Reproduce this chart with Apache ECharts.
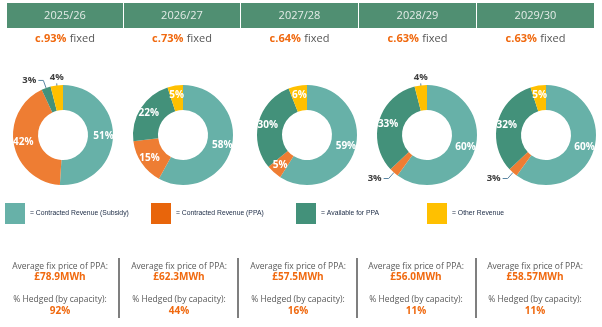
<!DOCTYPE html>
<html><head><meta charset="utf-8">
<script src="https://cdn.jsdelivr.net/npm/echarts@6/dist/echarts.min.js"></script>
<style>html,body{margin:0;padding:0;background:#fff;}#c{width:602px;height:327px;}</style>
</head><body><div id="c"></div>
<script>
// ---- data ----
const years = ['2025/26','2026/27','2027/28','2028/29','2029/30'];
const fixedPct = ['c.93%','c.73%','c.64%','c.63%','c.63%'];
const categories = ['Contracted Revenue (Subsidy)','Contracted Revenue (PPA)','Available for PPA','Other Revenue'];
const subsidy = [51,58,59,60,60];
const ppa = [42,15,5,3,3];
const available = [3,22,30,33,32];
const other = [4,5,6,4,5];
const avgPrice = ['£78.9MWh','£62.3MWh','£57.5MWh','£56.0MWh','£58.57MWh'];
const hedged = ['92%','44%','16%','11%','11%'];

// ---- layout / style ----
const values = [subsidy, ppa, available, other];
const sliceColors = ['#67b1a8','#ee7d33','#43917a','#ffc000'];
const legendColors = ['#67b1a8','#e8650b','#43917a','#ffc000'];
const boxEdges = [7,124,241,359,477,595];
const pieCx = [63,183,307,427,546];
const colCx = [60,179,298,416,535];
const sepX = [119,238,357,476];
const legendLeft = [5,151,296,427];
const FONT = 'Open Sans';
const ORANGE = '#f0690f';

const chart = echarts.init(document.getElementById('c'), null, {renderer:'canvas'});

const graphics = [];
years.forEach((y,i)=>{
  const x0 = boxEdges[i], x1 = boxEdges[i+1]-1;
  graphics.push({type:'rect', silent:true, shape:{x:x0, y:3, width:x1-x0, height:25}, style:{fill:'#508f72'}});
  graphics.push({type:'text', silent:true, x:(x0+x1)/2, y:15.5, style:{text:y, fill:'#e4ece8', font:'11px "'+FONT+'"', align:'center', verticalAlign:'middle'}});
  graphics.push({type:'text', silent:true, x:(x0+x1)/2, y:39, style:{
    text:'{a|'+fixedPct[i]+'} {b|fixed}', align:'center', verticalAlign:'middle',
    rich:{a:{fill:ORANGE, fontWeight:'bold', fontSize:11, fontFamily:FONT}, b:{fill:'#555', fontSize:11, fontFamily:FONT}}
  }});
  const cx = colCx[i];
  const t = (txt, yy, orange) => graphics.push({type:'text', silent:true, x:cx, y:yy, style:{
    text:txt, align:'center', verticalAlign:'middle',
    fill: orange ? ORANGE : '#595959',
    font: (orange ? 'bold 10px ' : '8.5px ') + '"'+FONT+'"'
  }});
  t('Average fix price of PPA:', 267, false);
  t(avgPrice[i], 277.5, true);
  t('% Hedged (by capacity):', 300, false);
  t(hedged[i], 311, true);
});
sepX.forEach(x=>{
  graphics.push({type:'line', silent:true, shape:{x1:x, y1:258, x2:x, y2:318}, style:{stroke:'#555', lineWidth:1.5}});
});

const legends = categories.map((c,k)=>({
  left: legendLeft[k]-5, top: 198, orient:'horizontal',
  itemWidth: 20, itemHeight: 21, icon:'rect', selectedMode:false,
  data:[{name:c, itemStyle:{color:legendColors[k]}}],
  formatter: '= {name}',
  textStyle:{fontSize:6.8, color:'#1b2a44', fontFamily:'"Liberation Sans"'}
}));

const series = years.map((y,i)=>({
  type:'pie', silent:true, center:[pieCx[i],135], radius:[25,50],
  startAngle:90, clockwise:true, animation:false, avoidLabelOverlap:false,
  emphasis:{disabled:true},
  label:{show:true, position:'inside', color:'#fff', fontWeight:'bold', fontSize:10, fontFamily:FONT, formatter:'{c}%'},
  labelLine:{show:false},
  itemStyle:{borderWidth:0},
  data: categories.map((c,k)=>{
    const v = values[k][i];
    const small = v <= 4;
    const d = {name:c, value:v, itemStyle:{color:sliceColors[k]}};
    if (small) {
      d.label = {position:'outside', color:'#404040', fontWeight:'bold', fontSize:9.5, distanceToLabelLine:2, overflow:'none'};
      d.labelLine = {show:true, length:8, length2:5, lineStyle:{color:'#5b86a3', width:1}};
    }
    return d;
  }),
  labelLayout: function(p){
    if (p.dataIndex === 3 && values[3][p.seriesIndex] <= 4 && p.labelLinePoints) {
      const p0 = p.labelLinePoints[0];
      return {x:p0[0], y:p0[1]-3, align:'center', verticalAlign:'bottom',
        labelLinePoints:[[p0[0]+1, p0[1]+12],[p0[0], p0[1]-2],[p0[0], p0[1]-2]]};
    }
    return {};
  }
}));

chart.setOption({
  animation:false,
  backgroundColor:'#fff',
  legend: legends,
  series: series,
  graphic: graphics
});
</script></body></html>
